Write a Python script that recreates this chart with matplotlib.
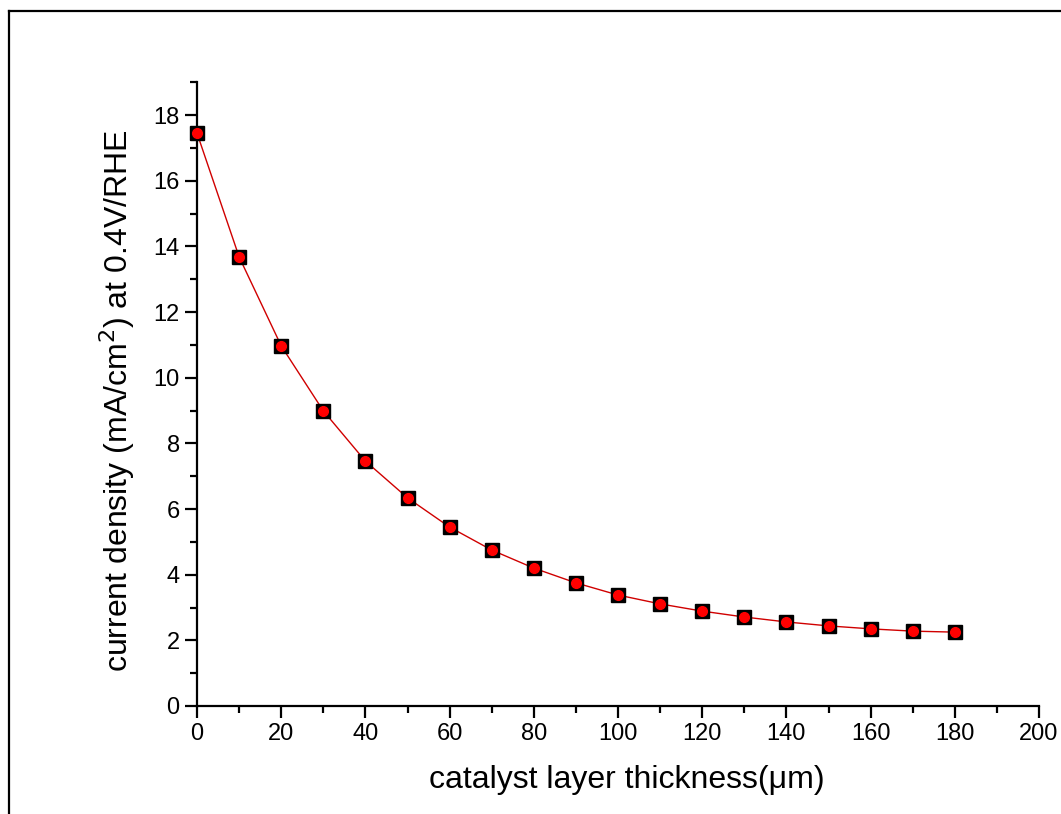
import numpy as np
import matplotlib
matplotlib.use('Agg')
import matplotlib.pyplot as plt
from matplotlib.lines import Line2D
from matplotlib.ticker import MultipleLocator

plt.rcParams['font.family'] = ['Liberation Sans', 'DejaVu Sans']

# ======================================================================
# Data
# ======================================================================
thickness = [0, 10, 20, 30, 40, 50, 60, 70, 80, 90,
             100, 110, 120, 130, 140, 150, 160, 170, 180]
current = [17.45, 13.68, 10.97, 8.99, 7.46, 6.34, 5.45, 4.75, 4.20, 3.75,
           3.38, 3.11, 2.89, 2.71, 2.56, 2.44, 2.35, 2.28, 2.25]

W, H = 1061, 814
fig = plt.figure(figsize=(W / 100, H / 100), dpi=100)
ax = fig.add_axes([197 / W, 1 - 706 / H, (1039 - 197) / W, (706 - 82.2) / H])

# Origin-like outer frame (only top and left visible)
fig.add_artist(Line2D([8.5 / W, 8.5 / W], [0, 1 - 10.5 / H], color='black', lw=1.6,
                      transform=fig.transFigure))
fig.add_artist(Line2D([8.5 / W, 1], [1 - 10.5 / H, 1 - 10.5 / H], color='black', lw=1.6,
                      transform=fig.transFigure))

ax.plot(thickness, current, color='#d00000', lw=1.0, zorder=2)
ax.plot(thickness, current, linestyle='none', marker='s', markersize=10,
        markerfacecolor='black', markeredgecolor='black', zorder=3, clip_on=False)
ax.plot(thickness, current, linestyle='none', marker='o', markersize=7,
        markerfacecolor='red', markeredgecolor='red', zorder=4, clip_on=False)

ax.set_xlim(0, 200)
ax.set_ylim(0, 19)
ax.xaxis.set_major_locator(MultipleLocator(20))
ax.xaxis.set_minor_locator(MultipleLocator(10))
ax.yaxis.set_major_locator(MultipleLocator(2))
ax.yaxis.set_minor_locator(MultipleLocator(1))

for side in ['top', 'right']:
    ax.spines[side].set_visible(False)
for side in ['left', 'bottom']:
    ax.spines[side].set_linewidth(1.6)

ax.tick_params(which='major', direction='out', length=8.5, width=1.6, labelsize=17, pad=4)
ax.tick_params(which='minor', direction='out', length=5, width=1.6)

ax.set_xlabel('catalyst layer thickness(\u03bcm)', fontsize=23)
ax.set_ylabel('current density (mA/cm$^2$) at 0.4V/RHE', fontsize=23)
ax.xaxis.set_label_coords(0.511, -0.095)
ax.yaxis.set_label_coords(-0.071, 0.49)

fig.savefig('out.png', dpi=100)
